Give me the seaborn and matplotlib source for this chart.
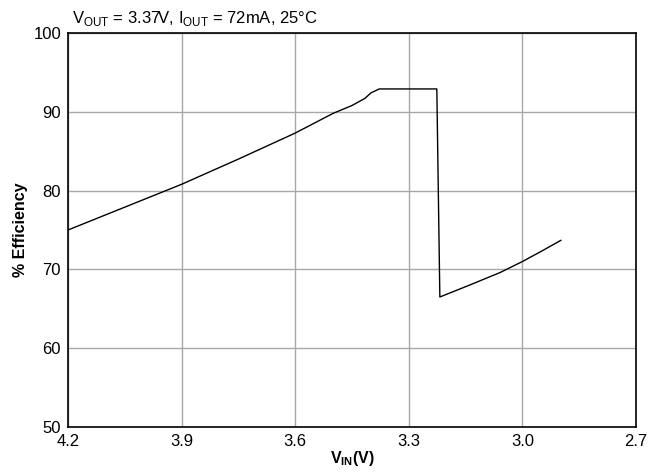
import matplotlib
matplotlib.use("Agg")
import matplotlib.pyplot as plt
import seaborn as sns
import pandas as pd

vin = [4.2, 4.05, 3.9, 3.75, 3.6, 3.5, 3.45, 3.416, 3.40, 3.378, 3.226, 3.218,
       3.14, 3.059, 3.0, 2.95, 2.898]
eff = [75.0, 77.9, 80.8, 84.0, 87.3, 89.8, 90.8, 91.7, 92.4, 92.9, 92.9, 66.5,
       68.0, 69.6, 71.0, 72.3, 73.7]
xticks = [4.2, 3.9, 3.6, 3.3, 3.0, 2.7]
yticks = [50, 60, 70, 80, 90, 100]

sns.set_theme(style="white")
plt.rcParams["font.family"] = ["Liberation Sans", "DejaVu Sans"]
plt.rcParams["mathtext.fontset"] = "custom"
plt.rcParams["mathtext.rm"] = "Liberation Sans"
plt.rcParams["mathtext.bf"] = "Liberation Sans:bold"
plt.rcParams["text.color"] = "black"
plt.rcParams["axes.labelcolor"] = "black"

df = pd.DataFrame({"vin": vin, "eff": eff})

fig = plt.figure(figsize=(6.61, 4.72), dpi=100)
ax = fig.add_axes([68/661, 45/472, 568/661, 394/472])
sns.lineplot(data=df, x="vin", y="eff", ax=ax, sort=False, estimator=None,
             color="black", linewidth=1.0)

ax.set_xlim(4.2, 2.7)
ax.set_ylim(50, 100)
ax.set_xticks(xticks)
ax.set_xticklabels([f"{t:.1f}" for t in xticks])
ax.set_yticks(yticks)
ax.grid(True, color="#a8a8a8", linewidth=1.0)
for s in ax.spines.values():
    s.set_visible(True)
    s.set_color("black")
    s.set_linewidth(1.2)
ax.tick_params(axis="both", length=0, labelsize=12, colors="black", pad=5)
ax.tick_params(axis="x", pad=5)

ax.set_xlabel(r"V$_{\mathbf{IN}}$(V)", fontsize=11.5, fontweight="bold", labelpad=0)
ax.set_ylabel("% Efficiency", fontsize=11.5, fontweight="bold", labelpad=4)
fig.text(72/661, 1 - 18/472, r"V$_{\mathrm{OUT}}$ = 3.37V, I$_{\mathrm{OUT}}$ = 72mA, 25°C",
         fontsize=12, va="center", ha="left", color="black")

fig.savefig("out.png", dpi=100)
